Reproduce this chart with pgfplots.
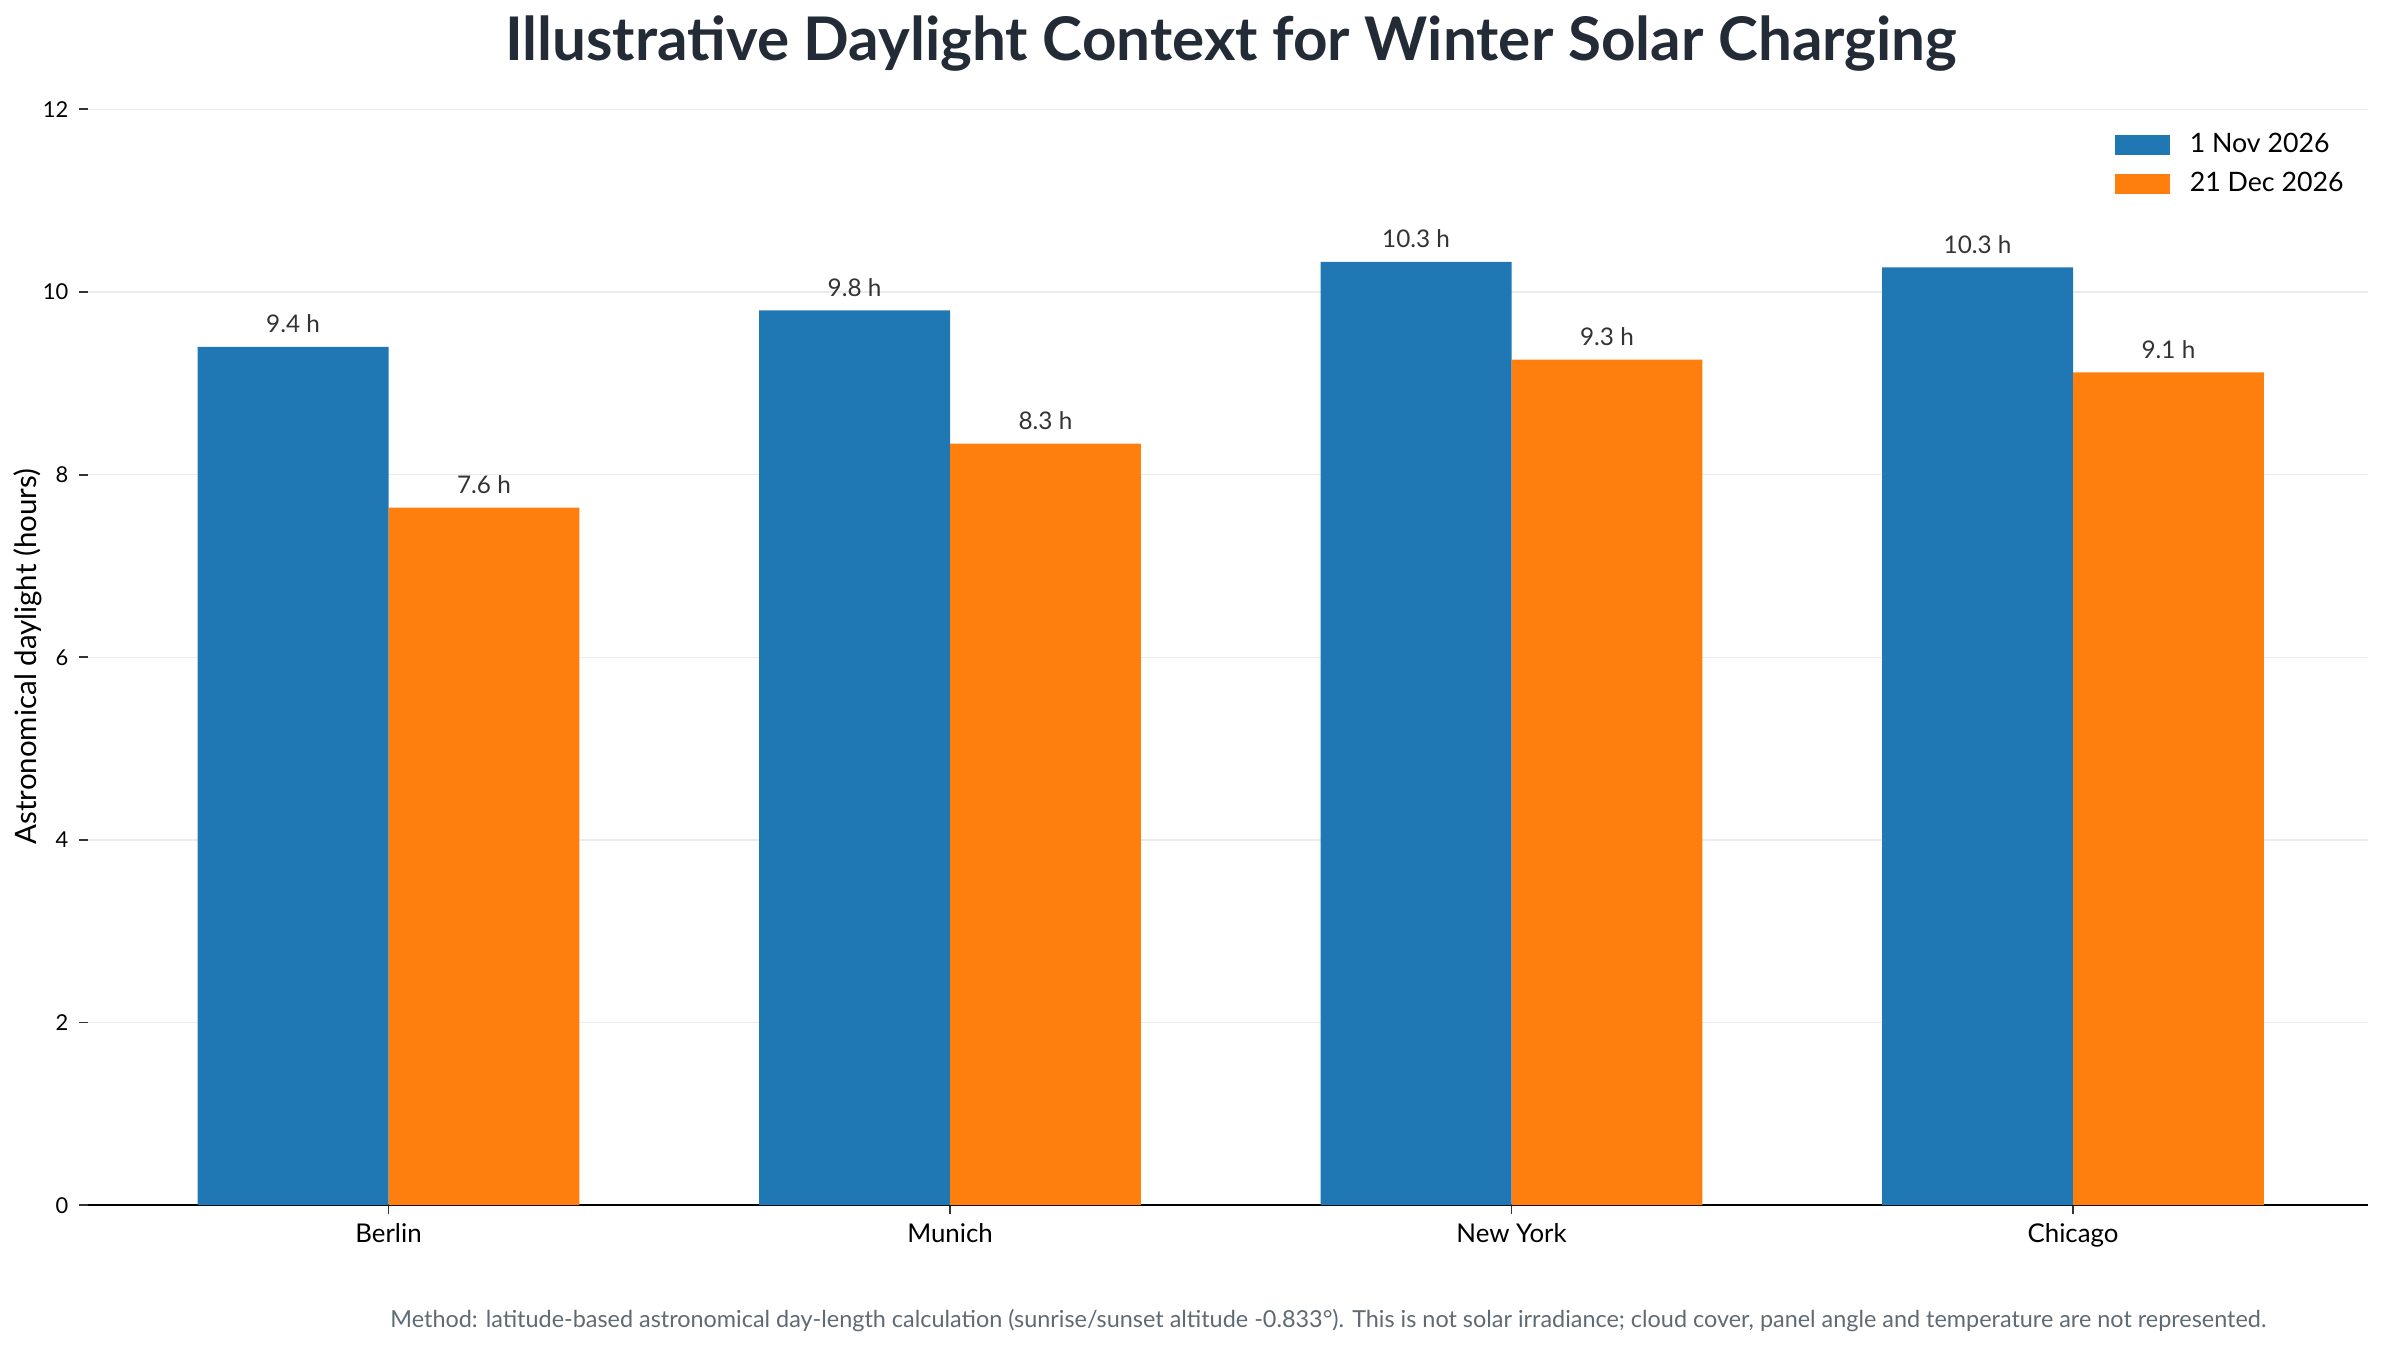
\documentclass[border=0pt]{standalone}
\usepackage{fontspec}
\setmainfont{Lato}
\usepackage{pgfplots}
\pgfplotsset{compat=1.18}
\definecolor{cblue}{HTML}{1F77B4}
\definecolor{corange}{HTML}{FF7F0E}
\definecolor{titlec}{HTML}{222B36}
\definecolor{notec}{HTML}{5F6A72}
\definecolor{gridc}{HTML}{EBEBEB}
\definecolor{labc}{HTML}{333333}
\begin{document}
\begin{tikzpicture}
\useasboundingbox (-29pt,-47.3pt) rectangle (755pt,396.5pt);
\begin{axis}[
  at={(0,0)}, anchor=south west, scale only axis,
  width=750pt, height=360.5pt,
  xmin=-0.535, xmax=3.525, ymin=0, ymax=12,
  xtick={0,1,2,3}, xticklabels={Berlin,Munich,New York,Chicago},
  ytick={0,2,4,6,8,10,12},
  axis x line*=bottom, axis y line*=left,
  y axis line style={draw=none},
  x axis line style={-, line width=0.8pt, black},
  tick align=outside, major tick length=3pt,
  tick style={line width=0.6pt, black!80},
  /pgf/number format/assume math mode=true,
  yticklabel style={font=\fontsize{7.2}{8.5}\selectfont},
  xticklabel style={font=\fontsize{8.5}{10}\selectfont, yshift=0.5pt},
  ymajorgrids, major grid style={gridc, line width=0.5pt},
  nodes near coords={\pgfmathprintnumber[fixed,fixed zerofill,precision=1]{\pgfplotspointmeta}~h},
  nodes near coords style={font=\fontsize{8}{9.5}\selectfont, text=labc, anchor=south, yshift=1pt},
  legend style={draw=none, fill=none, at={(0.9963,0.990)}, anchor=north east,
    font=\fontsize{8.8}{10}\selectfont, row sep=1pt},
  legend cell align=left,
  legend image code/.code={\fill[#1] (-9pt,-3.25pt) rectangle (9pt,3.25pt); \path (13.5pt,0pt);},
]
\addplot[ybar, bar width=0.34, bar shift=0, fill=cblue, draw=none]
  coordinates {(-0.17,9.40) (0.83,9.80) (1.83,10.33) (2.83,10.27)};
\addlegendentry{1 Nov 2026}
\addplot[ybar, bar width=0.34, bar shift=0, fill=corange, draw=none]
  coordinates {(0.17,7.64) (1.17,8.34) (2.17,9.26) (3.17,9.12)};
\addlegendentry{21 Dec 2026}
\end{axis}
\node[anchor=base, text=titlec, font=\fontsize{19.8}{23}\selectfont\bfseries] at (376pt,376.5pt) {Illustrative Daylight Context for Winter Solar Charging};
\node[rotate=90, anchor=center, font=\fontsize{9.7}{11}\selectfont] at (-20pt,180.5pt) {Astronomical daylight (hours)};
\node[anchor=center, text=notec, font=\fontsize{7.7}{9}\selectfont] at (408pt,-38pt) {Method: latitude-based astronomical day-length calculation (sunrise/sunset altitude -0.833°). This is not solar irradiance; cloud cover, panel angle and temperature are not represented.};
\end{tikzpicture}
\end{document}
